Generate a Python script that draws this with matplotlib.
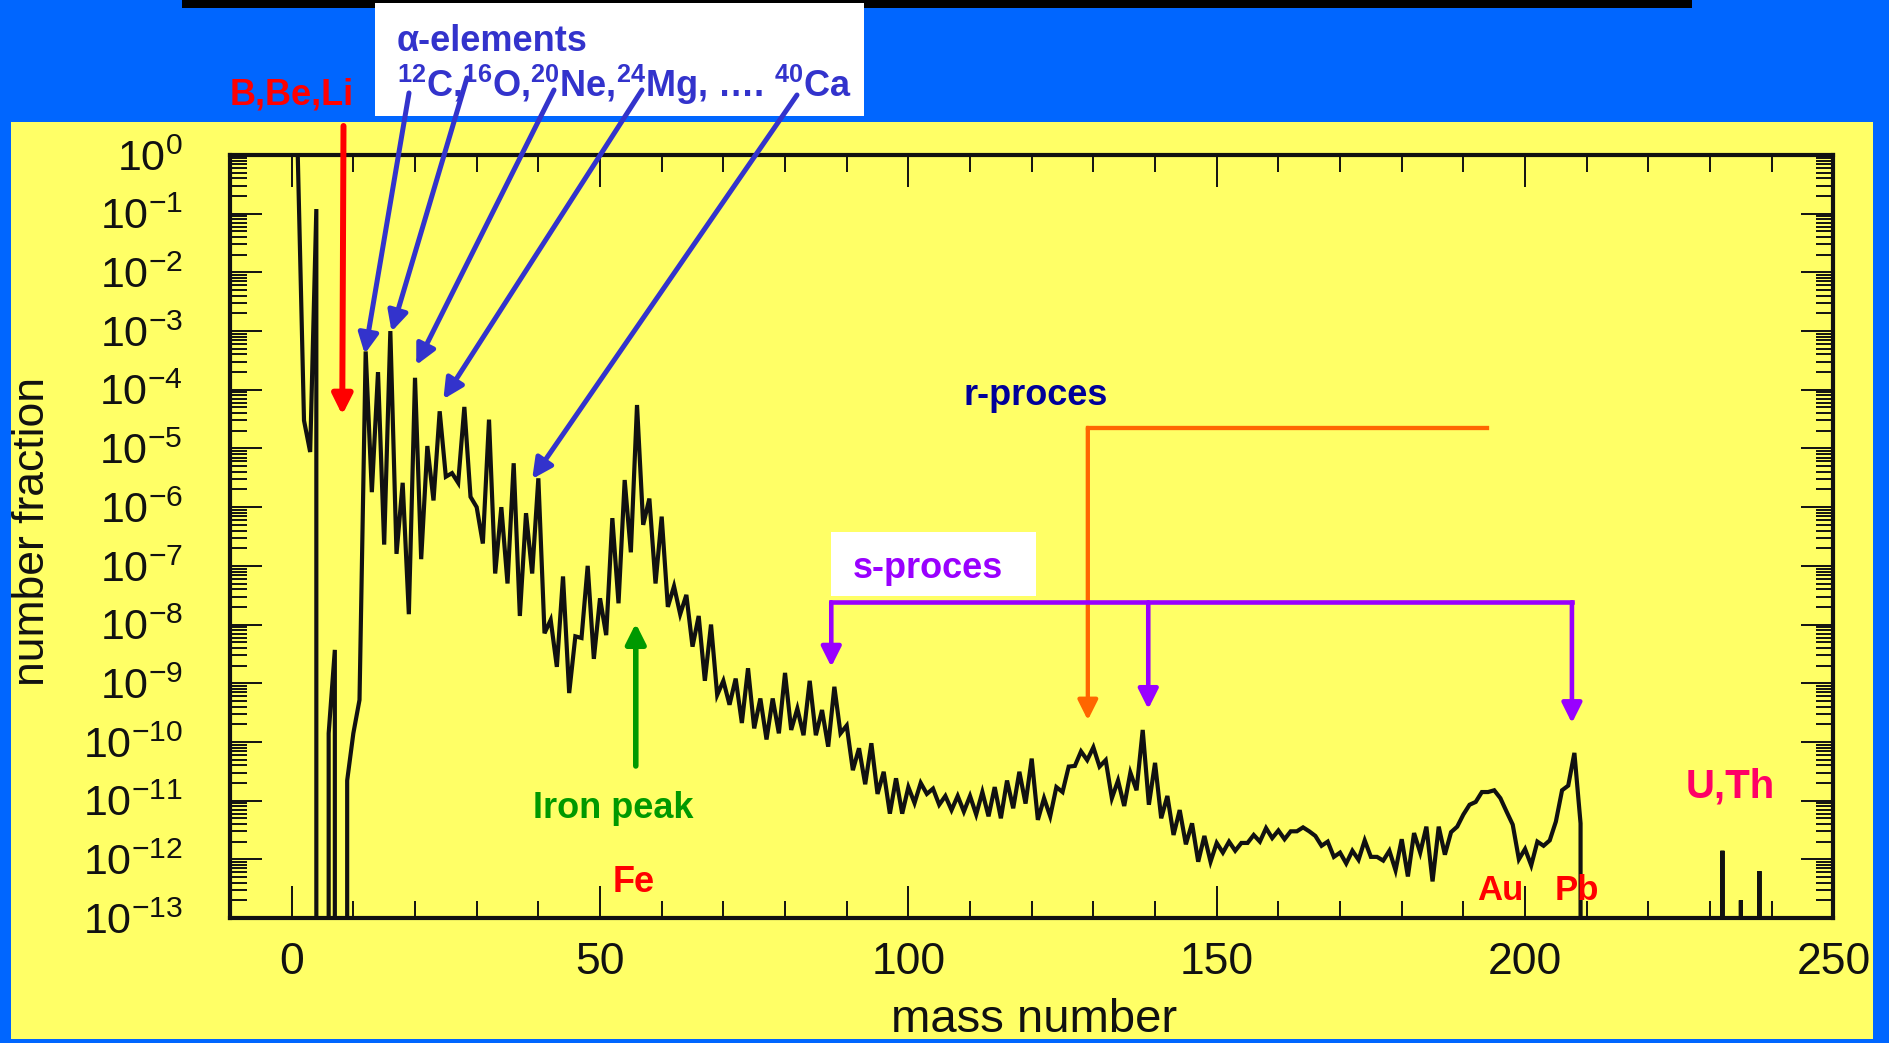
"""
Abundancia de los núcleos en el sistema solar frente al número másico
"""
import numpy as np
import matplotlib
matplotlib.use('Agg')
import matplotlib.pyplot as plt
from matplotlib.patches import Rectangle
from matplotlib.ticker import MultipleLocator, LogLocator, NullFormatter

plt.rcParams['font.family'] = ['Liberation Sans', 'DejaVu Sans']
plt.rcParams['mathtext.fontset'] = 'custom'
plt.rcParams['mathtext.rm'] = 'Liberation Sans'
plt.rcParams['mathtext.it'] = 'Liberation Sans:italic'
plt.rcParams['mathtext.bf'] = 'Liberation Sans:bold'

# fracción numérica por número másico (0 = no hay núcleo estable)
frac_1_40 = [8.8e-1, 3.0e-5, 8.7e-6, 1.2e-1, 0.0, 1.4e-10, 3.7e-9, 0.0, 2.2e-11, 1.4e-10,
             5.2e-10, 4.5e-4, 1.8e-6, 2.0e-4, 2.3e-7, 1.0e-3, 1.6e-7, 2.6e-6, 1.5e-8, 1.6e-4,
             1.3e-7, 1.1e-5, 1.3e-6, 4.3e-5, 3.3e-6, 3.8e-6, 2.6e-6, 5.1e-5, 1.5e-6, 1.0e-6,
             2.4e-7, 3.1e-5, 7.4e-8, 1.0e-6, 5.0e-8, 5.6e-6, 1.4e-8, 7.9e-7, 7.4e-8, 3.1e-6]
frac_41_90 = [7.1e-9, 1.2e-8, 1.9e-9, 6.6e-8, 6.8e-10, 6.3e-9, 5.9e-9, 1.0e-7, 2.6e-9, 2.8e-8,
              6.6e-9, 6.5e-7, 2.3e-8, 2.9e-6, 1.7e-7, 5.5e-5, 5.0e-7, 1.4e-6, 5.0e-8, 6.9e-7,
              2.0e-8, 4.5e-8, 1.5e-8, 3.2e-8, 4.2e-9, 1.4e-8, 1.1e-9, 1.0e-8, 6.3e-10, 1.1e-9,
              4.3e-10, 1.2e-9, 2.1e-10, 1.8e-9, 1.7e-10, 5.5e-10, 1.1e-10, 5.5e-10, 1.4e-10, 1.5e-9,
              1.6e-10, 3.7e-10, 1.3e-10, 1.1e-9, 1.3e-10, 3.5e-10, 8.3e-11, 8.7e-10, 1.4e-10, 1.9e-10]
frac_91_150 = [3.3e-11, 7.8e-11, 1.9e-11, 9.5e-11, 1.3e-11, 3.1e-11, 6.0e-12, 2.4e-11, 6.0e-12, 1.7e-11,
               9.1e-12, 2.0e-11, 1.3e-11, 1.6e-11, 8.5e-12, 1.2e-11, 6.9e-12, 1.2e-11, 6.5e-12, 1.2e-11,
               5.8e-12, 1.4e-11, 5.4e-12, 1.7e-11, 5.0e-12, 2.2e-11, 7.4e-12, 3.1e-11, 8.9e-12, 5.2e-11,
               4.7e-12, 1.1e-11, 5.4e-12, 1.7e-11, 1.4e-11, 3.8e-11, 3.9e-11, 6.9e-11, 4.9e-11, 8.1e-11,
               3.8e-11, 4.9e-11, 1.1e-11, 2.2e-11, 8.1e-12, 3.0e-11, 1.5e-11, 1.6e-10, 8.5e-12, 4.4e-11,
               5.0e-12, 1.2e-11, 2.6e-12, 6.9e-12, 1.8e-12, 4.1e-12, 9.1e-13, 2.5e-12, 9.1e-13, 1.9e-12]
frac_151_209 = [1.3e-12, 2.0e-12, 1.4e-12, 1.9e-12, 1.9e-12, 2.6e-12, 2.0e-12, 3.4e-12, 2.3e-12, 3.1e-12,
                2.2e-12, 3.0e-12, 3.0e-12, 3.5e-12, 3.0e-12, 2.5e-12, 1.7e-12, 2.0e-12, 1.1e-12, 1.3e-12,
                8.5e-13, 1.4e-12, 9.8e-13, 2.1e-12, 1.1e-12, 1.1e-12, 9.5e-13, 1.4e-12, 6.5e-13, 2.2e-12,
                5.1e-13, 2.8e-12, 1.3e-12, 3.6e-12, 4.2e-13, 3.6e-12, 1.2e-12, 2.9e-12, 3.6e-12, 5.8e-12,
                8.5e-12, 9.5e-12, 1.4e-11, 1.4e-11, 1.5e-11, 1.1e-11, 6.5e-12, 3.9e-12, 1.0e-12, 1.5e-12,
                7.9e-13, 2.0e-12, 1.7e-12, 2.1e-12, 4.4e-12, 1.5e-11, 1.8e-11, 6.5e-11, 4.1e-12]
# actínidos de vida larga
actinidos_A = [232, 235, 238]
actinidos_frac = [1.4e-12, 2.0e-13, 6.3e-13]

x_ticks = [0, 50, 100, 150, 200, 250]

W, H = 1889, 1043
AZUL = '#0066FF'
AMARILLO = '#FFFF66'


def fpx(px, py):
    """pixel de la figura (origen arriba a la izquierda) -> fracción de figura"""
    return px / W, 1 - py / H


def caja(fig, px0, py0, px1, py1, color, z):
    x0, y1 = fpx(px0, py0)
    x1, y0 = fpx(px1, py1)
    fig.add_artist(Rectangle((x0, y0), x1 - x0, y1 - y0, transform=fig.transFigure,
                             facecolor=color, edgecolor='none', zorder=z))


def texto(fig, px, py, s, color, size=26, **kw):
    x, y = fpx(px, py)
    fig.text(x, y, s, color=color, fontsize=size, fontweight='bold',
             ha='left', va='baseline', zorder=10, **kw)


# serie completa: todos los números másicos hasta 238
frac = frac_1_40 + frac_41_90 + frac_91_150 + frac_151_209
masa = list(range(1, len(frac) + 1))
abund = dict(zip(masa, frac))
abund.update(dict(zip(actinidos_A, actinidos_frac)))
A = np.arange(1, max(actinidos_A) + 1)
f = np.array([abund.get(a, 0.0) for a in A])

# los ceros se dibujan como caídas verticales fuera del eje
suelo = 1e-16
xs, ys = [], []
for i in range(len(A)):
    if f[i] > 0:
        if i > 0 and f[i - 1] == 0:
            xs.append(A[i]); ys.append(suelo)
        xs.append(A[i]); ys.append(f[i])
        if i == len(A) - 1 or f[i + 1] == 0:
            xs.append(A[i]); ys.append(suelo)
    else:
        xs.append(np.nan); ys.append(np.nan)

fig = plt.figure(figsize=(W / 100, H / 100), dpi=100, facecolor=AZUL)

# panel amarillo, caja de título cortada arriba y caja blanca de los alfa
caja(fig, 11, 122, 1873, 1039, AMARILLO, -10)
caja(fig, 182, 0, 1692, 8, 'black', -5)
caja(fig, 375, 3, 864, 116, 'white', -5)

ax = fig.add_axes([230 / W, 1 - 918 / H, 1603.4 / W, 763 / H])
ax.set_facecolor('none')
ax.plot(xs, ys, color='#111111', lw=3.0, solid_joinstyle='miter', zorder=3)

ax.set_yscale('log')
ax.set_xlim(-10, 250)
ax.set_ylim(1e-13, 1)
ax.set_xticks(x_ticks)
ax.xaxis.set_minor_locator(MultipleLocator(10))
ax.yaxis.set_major_locator(LogLocator(base=10, numticks=30))
ax.yaxis.set_minor_locator(LogLocator(base=10, subs=np.arange(2, 10), numticks=30))
ax.yaxis.set_minor_formatter(NullFormatter())
for sp in ax.spines.values():
    sp.set_linewidth(3)
    sp.set_color('#111111')
ax.tick_params(which='both', direction='in', top=True, right=True, color='#111111', width=1.4)
ax.tick_params(which='major', length=23)
ax.tick_params(which='minor', length=12)
ax.tick_params(axis='x', which='major', labelsize=32, pad=17, labelcolor='#111111')
ax.tick_params(axis='y', which='major', labelsize=31, pad=34, labelcolor='#111111')

x, y = fpx(1034, 1042)
fig.text(x, y, 'mass number', fontsize=34, ha='center', va='bottom', color='#111111')
x, y = fpx(33, 531)
fig.text(x, y, 'number fraction', fontsize=32, rotation=90, ha='center', va='center',
         color='#111111')

flecha = '-|>,head_length=0.8,head_width=0.4'

# elementos alfa
azul_alfa = '#3333CC'
texto(fig, 397, 51, 'α-elements', azul_alfa)
texto(fig, 397, 97, r'$^{\mathbf{12}}$C,$^{\mathbf{16}}$O,$^{\mathbf{20}}$Ne,'
                    r'$^{\mathbf{24}}$Mg, …. $^{\mathbf{40}}$Ca', azul_alfa)
alfa_inicio = [(409, 93), (467, 78), (554, 90), (642, 90), (797, 95)]
alfa_punta = [(11.85, 10 ** -3.39), (16.2, 10 ** -3.01), (20.2, 10 ** -3.58),
              (24.6, 10 ** -4.16), (39.0, 10 ** -5.52)]
for p0, p1 in zip(alfa_inicio, alfa_punta):
    ax.annotate('', xy=p1, xytext=fpx(*p0), textcoords='figure fraction',
                annotation_clip=False, zorder=6,
                arrowprops=dict(arrowstyle=flecha, color=azul_alfa, lw=3.6,
                                mutation_scale=15, shrinkA=0, shrinkB=0))

# B, Be, Li
texto(fig, 230, 104, 'B,Be,Li', '#FF0000')
ax.annotate('', xy=(8.2, 10 ** -4.43), xytext=fpx(343.5, 126), textcoords='figure fraction',
            annotation_clip=False, zorder=6,
            arrowprops=dict(arrowstyle=flecha, color='#FF0000', lw=4.3,
                            mutation_scale=15, shrinkA=0, shrinkB=0))

# pico del hierro
texto(fig, 533, 818, 'Iron peak', '#009900')
texto(fig, 613, 892, 'Fe', '#FF0000')
ax.annotate('', xy=(55.8, 10 ** -7.98), xytext=(55.8, 10 ** -10.41),
            arrowprops=dict(arrowstyle=flecha, color='#009900', lw=4.0,
                            mutation_scale=15, shrinkA=0, shrinkB=0), zorder=6)

# proceso r
naranja = '#FF6600'
y_r = 10 ** -4.65
texto(fig, 963, 405, 'r-proces', '#000099')
ax.plot([129.1, 193.8], [y_r, y_r], color=naranja, lw=3.1, solid_capstyle='projecting', zorder=5)
ax.annotate('', xy=(129.1, 10 ** -9.63), xytext=(129.1, y_r),
            arrowprops=dict(arrowstyle=flecha, color=naranja, lw=3.1,
                            mutation_scale=15, shrinkA=0, shrinkB=0), zorder=5)

# proceso s
morado = '#9900FF'
y_s = 10 ** -7.62
caja(fig, 831, 532, 1036, 596, 'white', 4)
texto(fig, 853, 578, 's-proces', morado)
ax.plot([87.5, 207.6], [y_s, y_s], color=morado, lw=3.3, solid_capstyle='projecting', zorder=6)
for a_s, l_s in zip([87.5, 138.9, 207.6], [8.72, 9.44, 9.68]):
    ax.annotate('', xy=(a_s, 10 ** -l_s), xytext=(a_s, y_s),
                arrowprops=dict(arrowstyle=flecha, color=morado, lw=3.3,
                                mutation_scale=15, shrinkA=0, shrinkB=0), zorder=6)

# etiquetas de elementos pesados
texto(fig, 1477, 900, 'Au', '#FF0000', size=25)
texto(fig, 1555, 900, 'Pb', '#FF0000', size=25)
texto(fig, 1686, 798, 'U,Th', '#FF0066', size=29)

fig.savefig('out.png', dpi=100, facecolor=AZUL)
